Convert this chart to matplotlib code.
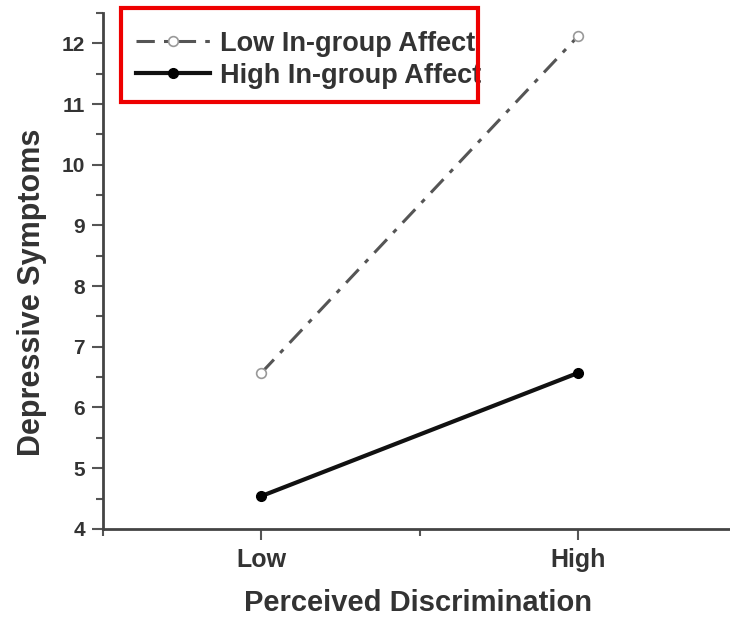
import matplotlib
matplotlib.use("Agg")
from matplotlib import pyplot as plt
from matplotlib.patches import Rectangle
from matplotlib.ticker import MultipleLocator

plt.rcParams['font.family'] = ['Liberation Sans', 'DejaVu Sans']

# data
levels = [1, 2]
level_labels = ["Low", "High"]
low_affect = [6.57, 12.12]
high_affect = [4.54, 6.57]
series_names = ["Low In-group Affect", "High In-group Affect"]

fig = plt.figure(figsize=(7.3, 6.2), dpi=100)
ax = fig.add_axes([0.141, 0.147, 0.868, 0.832])

ax.plot(levels, low_affect, color="#555555", lw=2.2, ls=(0, (6, 3, 1.5, 3)),
        marker="o", ms=7, mfc="white", mec="#999999", mew=1.2, label=series_names[0])
ax.plot(levels, high_affect, color="#111111", lw=3, ls="-",
        marker="o", ms=7, mfc="black", mec="black", label=series_names[1])

ax.set_xlim(0.5, 2.5)
ax.set_ylim(4, 12.5)
ax.set_xticks(levels)
ax.set_xticklabels(level_labels)
ax.xaxis.set_minor_locator(MultipleLocator(0.5))
ax.yaxis.set_major_locator(MultipleLocator(1))
ax.yaxis.set_minor_locator(MultipleLocator(0.5))

for s in ["top", "right"]:
    ax.spines[s].set_visible(False)
for s in ["left", "bottom"]:
    ax.spines[s].set_linewidth(2)
    ax.spines[s].set_color("#444444")

ax.tick_params(which="major", length=8, width=1.5, color="#555555", direction="out")
ax.tick_params(which="minor", length=5, width=1.5, color="#555555", direction="out")
ax.tick_params(axis="x", labelsize=18, pad=6, labelcolor="#333333")
ax.tick_params(axis="y", labelsize=15, pad=5, labelcolor="#333333")
for t in ax.get_xticklabels() + ax.get_yticklabels():
    t.set_fontweight("bold")

ax.set_ylabel("Depressive Symptoms", fontsize=22, fontweight="bold", color="#333333")
ax.yaxis.label.set_va("center")
ax.yaxis.set_label_coords(-0.112, 0.459)
ax.set_xlabel("Perceived Discrimination", fontsize=21, fontweight="bold", color="#333333")
ax.xaxis.label.set_va("center")
ax.xaxis.set_label_coords(0.497, -0.143)

leg = ax.legend(loc="upper left", bbox_to_anchor=(125 / 730, 1 - 20 / 620),
                bbox_transform=fig.transFigure, frameon=False, borderaxespad=0,
                handlelength=2.75, handletextpad=0.35, labelspacing=0.22,
                prop={"weight": "bold", "size": 19.5})
for t in leg.get_texts():
    t.set_color("#333333")

# red frame around legend
fig.patches.append(Rectangle((121 / 730, 1 - 102 / 620), (478 - 121) / 730, 94 / 620,
                             transform=fig.transFigure, fill=False, edgecolor="#ee0000",
                             linewidth=3, zorder=10))

plt.savefig("out.png", dpi=100)
